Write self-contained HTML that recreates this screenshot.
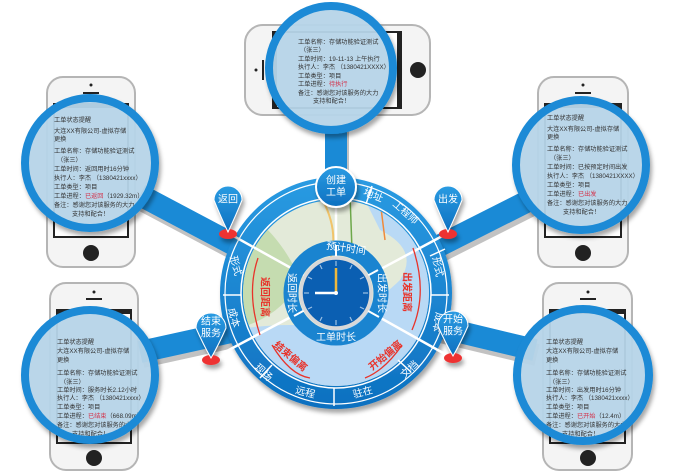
<!DOCTYPE html>
<html><head><meta charset="utf-8"><style>
body{margin:0;background:#fff;}
svg{display:block;font-family:"Liberation Sans","Noto Sans CJK SC",sans-serif;}
.g text{font-size:6.2px;fill:#333;}
.w{fill:#fff;font-size:10px;text-anchor:middle;dominant-baseline:central;}
.r{fill:#e8332a;font-size:10px;text-anchor:middle;dominant-baseline:central;font-weight:bold;}
</style></head><body>
<svg width="678" height="474" viewBox="0 0 678 474" xmlns="http://www.w3.org/2000/svg">
<defs>
<filter id="sh" x="-20%" y="-20%" width="140%" height="140%"><feDropShadow dx="2" dy="4" stdDeviation="2" flood-color="#000" flood-opacity="0.35"/></filter>
<linearGradient id="bl" x1="0" y1="0" x2="0" y2="1"><stop offset="0" stop-color="#2a9be2"/><stop offset="1" stop-color="#0d70c0"/></linearGradient>
<clipPath id="c1"><circle cx="331" cy="68" r="58"/></clipPath>
<clipPath id="c2"><circle cx="90" cy="163" r="61"/></clipPath>
<clipPath id="c3"><circle cx="581" cy="165" r="61"/></clipPath>
<clipPath id="c4"><circle cx="90" cy="375" r="61"/></clipPath>
<clipPath id="c5"><circle cx="583" cy="375" r="62"/></clipPath>
<clipPath id="mp"><circle cx="336" cy="293" r="93"/></clipPath>
</defs>

<g fill="#f4f4f4" stroke="#b5b5b5" stroke-width="2">
<rect x="245" y="25" width="185" height="90" rx="18"/>
<rect x="47" y="77" width="88" height="190" rx="16"/>
<rect x="538" y="77" width="90" height="190" rx="16"/>
<rect x="50" y="283" width="88" height="187" rx="16"/>
<rect x="543" y="283" width="89" height="187" rx="16"/>
</g>
<g fill="#222">
<rect x="272" y="31" width="130" height="78"/>
<rect x="53" y="103" width="76" height="135"/>
<rect x="544" y="103" width="78" height="135"/>
<rect x="56" y="309" width="76" height="135"/>
<rect x="549" y="309" width="77" height="135"/>
<circle cx="418" cy="70" r="8"/><circle cx="91" cy="253" r="8"/><circle cx="583" cy="253" r="8"/><circle cx="94" cy="458" r="8"/><circle cx="588" cy="458" r="8"/>
<circle cx="256" cy="70" r="1.5"/><rect x="262" y="60" width="2" height="20"/>
<circle cx="91" cy="85" r="1.5"/><rect x="83" y="92" width="16" height="2"/>
<circle cx="583" cy="85" r="1.5"/><rect x="575" y="92" width="16" height="2"/>
<circle cx="94" cy="292" r="1.5"/><rect x="86" y="298" width="16" height="2"/>
<circle cx="588" cy="292" r="1.5"/><rect x="580" y="298" width="16" height="2"/>
</g>
<g fill="#fff"><rect x="55" y="108" width="72" height="128"/><rect x="546" y="108" width="74" height="128"/><rect x="58" y="314" width="72" height="128"/><rect x="551" y="314" width="73" height="128"/><rect x="277" y="33" width="120" height="74"/></g>

<g stroke-linecap="butt">
<g stroke="#9a9a9a" stroke-width="22" opacity="0.6" transform="translate(2,5)">
<line x1="140" y1="195" x2="240" y2="248"/><line x1="530" y1="200" x2="435" y2="248"/>
<line x1="140" y1="352" x2="240" y2="330"/><line x1="535" y1="350" x2="435" y2="326"/>
<line x1="336" y1="125" x2="336" y2="185"/>
</g>
<g stroke="#1a8ad6" stroke-width="22">
<line x1="140" y1="195" x2="240" y2="248"/><line x1="530" y1="200" x2="435" y2="248"/>
<line x1="140" y1="352" x2="240" y2="330"/><line x1="535" y1="350" x2="435" y2="326"/>
<line x1="336" y1="125" x2="336" y2="185"/>
</g></g>

<g filter="url(#sh)" fill="#b8d6eb" fill-opacity="0.93" stroke="#1a8ad6" stroke-width="8">
<circle cx="331" cy="68" r="62"/>
<circle cx="90" cy="163" r="65"/>
<circle cx="581" cy="165" r="65"/>
<circle cx="90" cy="375" r="65"/>
<circle cx="583" cy="375" r="66"/>
</g>

<g class="g" clip-path="url(#c1)">
<text x="298" y="44">工单名称：存储功能验证测试</text>
<text x="300" y="52">（张三）</text>
<text x="298" y="61">工单时间：19-11-13 上午执行</text>
<text x="298" y="69">执行人：李杰 （1380421XXXX）</text>
<text x="298" y="78">工单类型：项目</text>
<text x="298" y="86">工单进程：<tspan fill="#d3324a">待执行</tspan></text>
<text x="298" y="95">备注：感谢您对该服务的大力</text>
<text x="313" y="103">支持和配合！</text>
</g>
<g class="g" clip-path="url(#c2)">
<text x="54" y="122" font-size="7">工单状态提醒</text>
<text x="54" y="133">大连XX有限公司-虚拟存储</text>
<text x="54" y="141">更换</text>
<text x="54" y="153">工单名称：存储功能验证测试</text>
<text x="57" y="162">（张三）</text>
<text x="54" y="171">工单时间：返回用时16分钟</text>
<text x="54" y="180">执行人：李杰 （1380421xxxx）</text>
<text x="54" y="189">工单类型：项目</text>
<text x="54" y="198">工单进程：<tspan fill="#d3324a">已返回</tspan>（1929.32m）</text>
<text x="54" y="207">备注：感谢您对该服务的大力</text>
<text x="72" y="216">支持和配合！</text>
</g>
<g class="g" clip-path="url(#c3)">
<text x="547" y="120" font-size="7">工单状态提醒</text>
<text x="547" y="131">大连XX有限公司-虚拟存储</text>
<text x="547" y="139">更换</text>
<text x="547" y="151">工单名称：存储功能验证测试</text>
<text x="550" y="160">（张三）</text>
<text x="547" y="169">工单时间：已按预定时间出发</text>
<text x="547" y="178">执行人：李杰 （1380421XXXX）</text>
<text x="547" y="187">工单类型：项目</text>
<text x="547" y="196">工单进程：<tspan fill="#d3324a">已出发</tspan></text>
<text x="547" y="205">备注：感谢您对该服务的大力</text>
<text x="563" y="214">支持和配合！</text>
</g>
<g class="g" clip-path="url(#c4)">
<text x="57" y="344" font-size="7">工单状态提醒</text>
<text x="57" y="353">大连XX有限公司-虚拟存储</text>
<text x="57" y="362">更换</text>
<text x="57" y="375">工单名称：存储功能验证测试</text>
<text x="60" y="384">（张三）</text>
<text x="57" y="392">工单时间：服务时长2.12小时</text>
<text x="57" y="400">执行人：李杰 （1380421xxxx）</text>
<text x="57" y="409">工单类型：项目</text>
<text x="57" y="418">工单进程：<tspan fill="#d3324a">已结束</tspan>（668.09m）</text>
<text x="57" y="427">备注：感谢您对该服务的大力</text>
<text x="72" y="436">支持和配合！</text>
</g>
<g class="g" clip-path="url(#c5)">
<text x="546" y="344" font-size="7">工单状态提醒</text>
<text x="546" y="353">大连XX有限公司-虚拟存储</text>
<text x="546" y="362">更换</text>
<text x="546" y="375">工单名称：存储功能验证测试</text>
<text x="549" y="384">（张三）</text>
<text x="546" y="392">工单时间：出发用时16分钟</text>
<text x="546" y="400">执行人：李杰 （1380421xxxx）</text>
<text x="546" y="409">工单类型：项目</text>
<text x="546" y="418">工单进程：<tspan fill="#d3324a">已开始</tspan>（12.4m）</text>
<text x="546" y="427">备注：感谢您对该服务的大力</text>
<text x="562" y="436">支持和配合！</text>
</g>

<circle cx="336" cy="293" r="116" fill="url(#bl)" filter="url(#sh)"/>
<g clip-path="url(#mp)">
<rect x="230" y="190" width="220" height="210" fill="#e3ead9"/>
<path d="M360 190 L450 190 L450 400 L230 400 L230 330 Q300 320 330 330 Q380 300 400 280 Q420 250 380 230 Z" fill="#b9d9f5"/>
<path d="M230 200 Q280 230 300 280 Q280 320 230 330 Z" fill="#c5dcb0"/>
<path d="M320 195 Q340 230 330 260" stroke="#f1c46a" stroke-width="2" fill="none"/>
<path d="M350 195 L352 250" stroke="#6da84a" stroke-width="1.5" fill="none"/>
<path d="M380 200 L385 240" stroke="#f08a3a" stroke-width="1.5" fill="none"/>
</g>
<g fill="none" stroke="#fff">
<circle cx="336" cy="293" r="95" stroke-width="1.5"/>
<circle cx="336" cy="293" r="111" stroke-width="1.2"/>
</g>
<g stroke="#fff" stroke-width="2.5">
<line x1="336" y1="293" x2="336" y2="178"/>
<line x1="336" y1="293" x2="228" y2="233"/>
<line x1="336" y1="293" x2="448" y2="233"/>
<line x1="336" y1="293" x2="210" y2="360"/>
<line x1="336" y1="293" x2="452" y2="358"/>
</g>
<g stroke="#fff" stroke-width="1.5">
<line x1="366" y1="204" x2="372" y2="186"/><line x1="430" y1="256" x2="445" y2="249"/>
<line x1="431" y1="295" x2="449" y2="295"/><line x1="398" y1="360" x2="411" y2="372"/>
<line x1="334" y1="388" x2="334" y2="406"/><line x1="272" y1="365" x2="260" y2="378"/>
<line x1="241" y1="295" x2="223" y2="295"/>
</g>
<circle cx="336" cy="293" r="45" fill="none" stroke="#1a84d0" stroke-width="15"/>
<g stroke="#fff" stroke-width="2"><line x1="336" y1="293" x2="336" y2="245"/><line x1="336" y1="293" x2="378" y2="270"/><line x1="336" y1="293" x2="294" y2="316"/><line x1="336" y1="293" x2="379" y2="317"/></g>
<circle cx="336" cy="293" r="35" fill="#0b5fb2" stroke="#d8d8d8" stroke-width="3.5"/>
<g stroke="#9cc0e4" stroke-width="1.2">
<line x1="336" y1="261" x2="336" y2="266"/><line x1="336" y1="320" x2="336" y2="325"/>
<line x1="304" y1="293" x2="309" y2="293"/><line x1="363" y1="293" x2="368" y2="293"/>
<line x1="320" y1="265" x2="322" y2="269"/><line x1="352" y1="265" x2="350" y2="269"/>
<line x1="320" y1="321" x2="322" y2="317"/><line x1="352" y1="321" x2="350" y2="317"/>
<line x1="308" y1="277" x2="312" y2="279"/><line x1="364" y1="277" x2="360" y2="279"/>
<line x1="308" y1="309" x2="312" y2="307"/><line x1="364" y1="309" x2="360" y2="307"/>
</g>
<line x1="336" y1="293" x2="336" y2="268" stroke="#f0b83c" stroke-width="2.5"/>
<line x1="336" y1="293" x2="315" y2="293" stroke="#fff" stroke-width="2.5"/>
<circle cx="336" cy="293" r="2" fill="#fff"/>

<text class="w" transform="translate(346,249) rotate(8)" font-size="9">预计时间</text>
<text class="w" transform="translate(381,293) rotate(90)" font-size="9">出发时长</text>
<text class="w" transform="translate(336,338)" font-size="9">工单时长</text>
<text class="w" transform="translate(291,293) rotate(90)" font-size="9">返回时长</text>

<text class="w" transform="translate(373,196) rotate(21)">地址</text>
<text class="w" transform="translate(405,213) rotate(41)">工程师</text>
<text class="w" transform="translate(437,267) rotate(78)">形式</text>
<text class="w" transform="translate(437,322) rotate(100)">成本</text>
<text class="w" transform="translate(410,370) rotate(-44)">文档</text>
<text class="w" transform="translate(363,393) rotate(-15)">驻在</text>
<text class="w" transform="translate(305,393) rotate(15)">远程</text>
<text class="w" transform="translate(263,373) rotate(43)">现场</text>
<text class="w" transform="translate(233,318) rotate(75)">成本</text>
<text class="w" transform="translate(235,266) rotate(75)">形式</text>

<g stroke="#e8332a" stroke-width="1.3" fill="none">
<path d="M258 258 Q246 293 260 335"/><path d="M413 248 Q428 293 412 330"/>
<path d="M272 345 Q290 375 310 378"/><path d="M402 345 Q385 370 365 378"/>
</g>
<text class="r" transform="translate(264,297) rotate(90)">返回距离</text>
<text class="r" transform="translate(406,292) rotate(90)">出发距离</text>
<text class="r" transform="translate(290,357) rotate(40)">结束偏离</text>
<text class="r" transform="translate(386,356) rotate(-40)">开始偏离</text>

<circle cx="336" cy="187" r="20" fill="url(#bl)" stroke="#fff" stroke-width="2" filter="url(#sh)"/>
<text class="w" x="336" y="181">创建</text><text class="w" x="336" y="193">工单</text>

<g filter="url(#sh)">
<ellipse cx="228" cy="234" rx="9" ry="5" fill="#e33"/>
<path d="M214 200 A14 14 0 1 1 242 200 Q236 215 228 232 Q220 215 214 200 Z" fill="url(#bl)" stroke="#fff" stroke-width="1"/>
<ellipse cx="448" cy="234" rx="9" ry="5" fill="#e33"/>
<path d="M434 200 A14 14 0 1 1 462 200 Q456 215 448 232 Q440 215 434 200 Z" fill="url(#bl)" stroke="#fff" stroke-width="1"/>
<ellipse cx="211" cy="360" rx="9" ry="5" fill="#e33"/>
<path d="M196 328 A15 15 0 1 1 226 328 Q219 344 211 358 Q203 344 196 328 Z" fill="url(#bl)" stroke="#fff" stroke-width="1"/>
<ellipse cx="453" cy="358" rx="9" ry="5" fill="#e33"/>
<path d="M438 326 A15 15 0 1 1 468 326 Q461 342 453 356 Q445 342 438 326 Z" fill="url(#bl)" stroke="#fff" stroke-width="1"/>
</g>
<text class="w" x="228" y="200">返回</text>
<text class="w" x="448" y="200">出发</text>
<text class="w" x="211" y="322">结束</text><text class="w" x="211" y="334">服务</text>
<text class="w" x="453" y="320">开始</text><text class="w" x="453" y="332">服务</text>
</svg>
</body></html>
